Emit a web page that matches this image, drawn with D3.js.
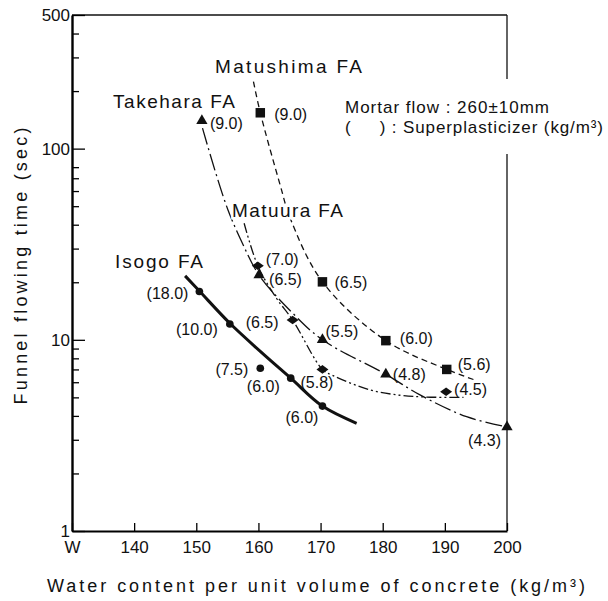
<!DOCTYPE html>
<html>
<head>
<meta charset="utf-8">
<script src="https://cdn.jsdelivr.net/npm/d3@7"></script>
<style>
body { margin: 0; background: #fff; }
text { font-family: "Liberation Sans", Arial, sans-serif; fill: #111; }
</style>
</head>
<body>
<svg id="chart" width="608" height="601"></svg>
<script>
"use strict"

// water content (kg/m3) and funnel flowing time (sec)
const isogo_w = [150.5, 155.4, 160.3, 165.2, 170.3]
const isogo_t = [17.9, 12.1, 7.1, 6.3, 4.5]
const isogo_sp = ["18.0", "10.0", "7.5", "6.0", "6.0"]
const isogo_curve_w = [148.2, 150.5, 155.4, 160.3, 165.2, 170.3, 175.8]
const isogo_curve_t = [21.6, 18.0, 12.2, 8.7, 6.3, 4.5, 3.66]

const takehara_w = [150.9, 160.1, 170.3, 180.5, 200]
const takehara_t = [140, 21.8, 10.0, 6.6, 3.5]
const takehara_sp = ["9.0", "6.5", "5.5", "4.8", "4.3"]
const takehara_curve_w = [151.0, 153.0, 155.1, 157.4, 160.1, 165.5, 170.3, 180.5, 186, 193.5, 200]
const takehara_curve_t = [128, 77, 47.8, 32.1, 21.8, 13.8, 10.0, 6.6, 5.15, 3.96, 3.5]

const matuura_w = [159.9, 165.5, 170.3, 190.2]
const matuura_t = [24.4, 12.7, 7.0, 5.35]
const matuura_sp = ["7.0", "6.5", "5.8", "4.5"]
const matuura_curve_w = [157.7, 159.9, 162.9, 165.5, 170.3, 172, 178, 182.8, 187, 193]
const matuura_curve_t = [40.7, 24.4, 16.5, 12.7, 7.0, 6.5, 5.47, 5.13, 5.02, 5.0]

const matushima_w = [160.3, 170.3, 180.5, 190.3]
const matushima_t = [154, 20.1, 9.9, 7.0]
const matushima_sp = ["9.0", "6.5", "6.0", "5.6"]
const matushima_curve_w = [159.2, 160.3, 163.5, 165.1, 170.3, 180.5, 190.3, 194.6]
const matushima_curve_t = [224, 154, 64.5, 43.4, 20.1, 9.9, 7.0, 6.2]

const x_ticks = [130, 140, 150, 160, 170, 180, 190, 200]
const x_tick_labels = ["W", "140", "150", "160", "170", "180", "190", "200"]
const y_major = [1, 10, 100, 500]
const y_minor = [2, 3, 4, 5, 6, 7, 8, 9, 20, 30, 40, 50, 60, 70, 80, 200, 300, 400]

// label offsets (px) for the superplasticizer dosages: [dx, dy, anchor]
const isogo_lbl = [[-11, 8, "end"], [-12, 11, "end"], [-12, 7, "end"], [-11, 14, "end"], [-4, 17, "end"]]
const takehara_lbl = [[8, 8, "start"], [10, 10, "start"], [3, -3, "start"], [7, 6, "start"], [-6, 19, "end"]]
const matuura_lbl = [[8, -1, "start"], [-14, 8, "end"], [11, 19, "end"], [8, 3, "start"]]
const matushima_lbl = [[14, 7, "start"], [12, 6, "start"], [14, 3, "start"], [11, 1, "start"]]

const svg = d3.select("#chart")

const x = d3.scaleLinear().domain([130, 200]).range([72, 507])
const y = d3.scaleLog().domain([1, 500]).range([531, 15])

const wideDiamond = {
    draw(context, size) {
        const w = Math.sqrt(size) * 0.6, h = w * 0.72
        context.moveTo(-w, 0)
        context.lineTo(0, -h)
        context.lineTo(w, 0)
        context.lineTo(0, h)
        context.closePath()
    }
}

const series = [
    {name: "Isogo FA", w: isogo_w, t: isogo_t, sp: isogo_sp, cw: isogo_curve_w, ct: isogo_curve_t, lbl: isogo_lbl,
        symbol: d3.symbolCircle, size: 46, width: 3, dash: null, nx: 115, ny: 268, len: 88},
    {name: "Takehara FA", w: takehara_w, t: takehara_t, sp: takehara_sp, cw: takehara_curve_w, ct: takehara_curve_t, lbl: takehara_lbl,
        symbol: d3.symbolTriangle, size: 55, width: 1.3, dash: "17,4,2,4", nx: 113, ny: 108, len: 122},
    {name: "Matuura FA", w: matuura_w, t: matuura_t, sp: matuura_sp, cw: matuura_curve_w, ct: matuura_curve_t, lbl: matuura_lbl,
        symbol: wideDiamond, size: 100, width: 1.3, dash: "10,3,2,3,2,3", nx: 232, ny: 217, len: 111},
    {name: "Matushima FA", w: matushima_w, t: matushima_t, sp: matushima_sp, cw: matushima_curve_w, ct: matushima_curve_t, lbl: matushima_lbl,
        symbol: d3.symbolSquare, size: 90, width: 1.3, dash: "6,4", nx: 215, ny: 73, len: 147}
]

// frame: top and right borders
svg.append("line")
    .attr("x1", x(130)).attr("x2", x(200)).attr("y1", y(500)).attr("y2", y(500))
    .style("stroke", "#111").style("stroke-width", 1.5)
svg.append("line")
    .attr("x1", x(200)).attr("x2", x(200)).attr("y1", y(500)).attr("y2", y(1))
    .style("stroke", "#111").style("stroke-width", 1.3)

// axes
const xAxis = d3.axisBottom(x)
    .tickValues(x_ticks)
    .tickFormat((d, i) => x_tick_labels[i])
    .tickSizeInner(-8)
    .tickSizeOuter(0)
    .tickPadding(10)

const gx = svg.append("g")
    .attr("transform", "translate(0," + y(1) + ")")
    .call(xAxis)
gx.select(".domain").style("stroke-width", 2)
gx.selectAll("line").style("stroke-width", 1.3)
gx.selectAll("text").style("font-size", "17px").style("font-family", "Liberation Sans, Arial, sans-serif").style("fill", "#111")

const gyMinor = svg.append("g")
    .attr("transform", "translate(" + x(130) + ",0)")
    .call(d3.axisLeft(y).tickValues(y_minor).tickFormat("").tickSizeInner(-7).tickSizeOuter(0))
gyMinor.select(".domain").remove()
gyMinor.selectAll("line").style("stroke-width", 1.3)

const gy = svg.append("g")
    .attr("transform", "translate(" + x(130) + ",0)")
    .call(d3.axisLeft(y).tickValues(y_major).tickFormat(d3.format("d")).tickSizeInner(-13).tickSizeOuter(0).tickPadding(2))
gy.select(".domain").style("stroke-width", 2.4)
gy.selectAll("line").style("stroke-width", 1.3)
gy.selectAll("text").style("font-size", "17px").style("font-family", "Liberation Sans, Arial, sans-serif").style("fill", "#111")

// axis titles
svg.append("text")
    .attr("x", 316).attr("y", 592)
    .attr("text-anchor", "middle")
    .attr("textLength", 538).attr("lengthAdjust", "spacing")
    .style("font-size", "18px")
    .text("Water content per unit volume of concrete (kg/m³)")

svg.append("text")
    .attr("transform", "translate(27,266) rotate(-90)")
    .attr("text-anchor", "middle")
    .attr("textLength", 277).attr("lengthAdjust", "spacing")
    .style("font-size", "18px")
    .text("Funnel flowing time (sec)")

// curves
const line = d3.line()
    .x(d => x(d[0]))
    .y(d => y(d[1]))
    .curve(d3.curveCatmullRom)

svg.selectAll(".curve")
    .data(series)
    .enter()
    .append("path")
    .attr("class", "curve")
    .attr("d", s => line(s.cw.map((w, i) => [w, s.ct[i]])))
    .style("fill", "none")
    .style("stroke", "#111")
    .style("stroke-width", s => s.width)
    .style("stroke-dasharray", s => s.dash)

// series names (white halo breaks the curves behind them)
svg.selectAll(".name")
    .data(series)
    .enter()
    .append("text")
    .attr("class", "name")
    .attr("x", s => s.nx)
    .attr("y", s => s.ny)
    .attr("textLength", s => s.len).attr("lengthAdjust", "spacing")
    .style("font-size", "19px")
    .style("stroke", "#fff").style("stroke-width", 5).style("paint-order", "stroke")
    .text(s => s.name)

// markers and dosage labels
series.forEach(s => {
    const pts = s.w.map((w, i) => ({w: w, t: s.t[i], sp: s.sp[i], lbl: s.lbl[i]}))
    const sym = d3.symbol().type(s.symbol).size(s.size)

    svg.selectAll(null)
        .data(pts)
        .enter()
        .append("path")
        .attr("d", sym)
        .attr("transform", d => "translate(" + x(d.w) + "," + y(d.t) + ")")
        .style("fill", "#111")

    svg.selectAll(null)
        .data(pts)
        .enter()
        .append("text")
        .attr("x", d => x(d.w) + d.lbl[0])
        .attr("y", d => y(d.t) + d.lbl[1])
        .attr("text-anchor", d => d.lbl[2])
        .style("font-size", "16px")
        .text(d => "(" + d.sp + ")")
})

// legend note, with a white patch that breaks the right border
const note = svg.append("g")
const bg = note.append("rect").style("fill", "#fff")
note.append("text")
    .attr("x", 345).attr("y", 113)
    .attr("textLength", 204).attr("lengthAdjust", "spacing")
    .style("font-size", "17px")
    .text("Mortar flow : 260±10mm")
note.append("text")
    .attr("x", 345).attr("y", 133)
    .attr("textLength", 258).attr("lengthAdjust", "spacing")
    .style("font-size", "17px")
    .style("white-space", "pre")
    .text("(     ) : Superplasticizer (kg/m³)")
const bb = note.node().getBBox()
bg.attr("x", bb.x - 3).attr("y", bb.y - 19).attr("width", bb.width + 6).attr("height", bb.height + 36)
</script>
</body>
</html>
